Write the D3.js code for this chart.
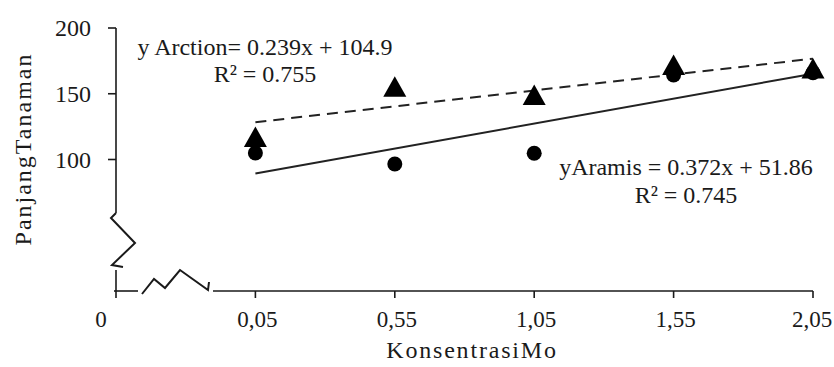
<!DOCTYPE html>
<html><head><meta charset="utf-8">
<script src="https://cdn.jsdelivr.net/npm/d3@7"></script>
<style>
html,body{margin:0;padding:0;background:#fff;}
svg{display:block;}
svg text{font-family:'Liberation Serif','DejaVu Serif',serif;}
</style></head>
<body>
<svg id="chart" width="834" height="367"></svg>
<script>
// ---- data ----
const categories = ["0", "0,05", "0,55", "1,05", "1,55", "2,05"];
const arction = [117.1, 155.4, 149.0, 171.9, 169.2];   // triangles, at categories 1..5
const aramis  = [104.9, 96.6, 104.7, 164.3, 166.0];    // circles
const yTicks = [100, 150, 200];
const eqArction = ["y Arction= 0.239x + 104.9", "R\u00B2 = 0.755"];
const eqAramis  = ["yAramis = 0.372x + 51.86", "R\u00B2 = 0.745"];
const xTitle = "KonsentrasiMo";
const yTitle = "PanjangTanaman";

const FONT = "Liberation Serif, DejaVu Serif, serif";
const svg = d3.select("#chart").attr("font-family", FONT);
const x = d3.scaleLinear().domain([0, categories.length - 1]).range([116, 813]);
const y = d3.scaleLinear().domain([0, 200]).range([291, 28]);
const ink = "#1a1a1a";

// ---- y axis (with break) ----
const y0 = y(0), xa = x(0);
svg.append("path")
  .attr("d", `M${xa},${y(200)}V${y0 - 78}`)
  .attr("stroke", ink).attr("stroke-width", 1.6).attr("fill", "none");
svg.append("path")
  .attr("d", `M${xa},${y0 - 78}L${xa - 5},${y0 - 73}L${xa + 19},${y0 - 48}L${xa - 4},${y0 - 26}L${xa + 7},${y0 - 24}`)
  .attr("stroke", ink).attr("stroke-width", 2).attr("fill", "none").attr("stroke-linejoin", "miter");
svg.append("path")
  .attr("d", `M${xa},${y0 - 21}V${y0 + 7}`)
  .attr("stroke", ink).attr("stroke-width", 1.6).attr("fill", "none");
const yg = svg.append("g");
yTicks.forEach(t => {
  yg.append("line").attr("x1", xa - 8).attr("x2", xa).attr("y1", y(t)).attr("y2", y(t))
    .attr("stroke", ink).attr("stroke-width", 1.6);
  yg.append("text").attr("x", 91).attr("y", y(t) + 8).attr("text-anchor", "end")
    .attr("font-family", FONT).attr("font-size", 24).attr("fill", ink).text(t);
});

// ---- x axis (with break) ----
svg.append("path")
  .attr("d", `M${xa - 2},${y0}H${xa + 22}`)
  .attr("stroke", ink).attr("stroke-width", 1.6).attr("fill", "none");
svg.append("path")
  .attr("d", `M${xa + 26},${y0 + 3}L${xa + 38},${y0 - 12}L${xa + 49},${y0 - 3}L${xa + 64},${y0 - 21}L${xa + 92},${y0 - 1}L${xa + 93},${y0 - 9}`)
  .attr("stroke", ink).attr("stroke-width", 2).attr("fill", "none");
svg.append("path")
  .attr("d", `M${xa + 97},${y0}H${x(categories.length - 1)}`)
  .attr("stroke", ink).attr("stroke-width", 1.6).attr("fill", "none");
const xg = svg.append("g");
categories.forEach((c, i) => {
  if (i > 0) xg.append("line").attr("x1", x(i)).attr("x2", x(i)).attr("y1", y0).attr("y2", y0 + 7)
    .attr("stroke", ink).attr("stroke-width", 1.6);
  const last = i === categories.length - 1;
  xg.append("text")
    .attr("x", i === 0 ? x(i) - 15 : (last ? Math.min(x(i), 812) : x(i) + 2))
    .attr("y", 327).attr("text-anchor", "middle")
    .attr("font-family", FONT).attr("font-size", 23).attr("fill", ink).text(c);
});

// ---- titles ----
svg.append("text").attr("x", 472).attr("y", 358).attr("text-anchor", "middle")
  .attr("font-family", FONT).attr("font-size", 24).attr("letter-spacing", 1.8).attr("fill", ink).text(xTitle);
svg.append("text").attr("transform", `translate(31,149) rotate(-90)`).attr("text-anchor", "middle")
  .attr("font-family", FONT).attr("font-size", 24).attr("letter-spacing", 2).attr("fill", ink).text(yTitle);

// ---- trendlines (least squares on the data) ----
function fit(vals) {
  const xs = vals.map((v, i) => i + 1);
  const mx = d3.mean(xs), my = d3.mean(vals);
  const b = d3.sum(xs, (xi, i) => (xi - mx) * (vals[i] - my)) / d3.sum(xs, xi => (xi - mx) ** 2);
  const a = my - b * mx;
  return [[1, a + b], [vals.length, a + b * vals.length]];
}
const line = d3.line().x(d => x(d[0])).y(d => y(d[1]));
svg.append("path").attr("d", line(fit(aramis)))
  .attr("stroke", "#222").attr("stroke-width", 2).attr("fill", "none");
svg.append("path").attr("d", line(fit(arction)))
  .attr("stroke", "#222").attr("stroke-width", 2).attr("stroke-dasharray", "11,7").attr("fill", "none");

// ---- markers ----
svg.append("g").selectAll("circle").data(aramis).join("circle")
  .attr("cx", (d, i) => x(i + 1)).attr("cy", d => y(d)).attr("r", 7.5).attr("fill", "#000");
const triPath = (cx, cy) => {
  const p = d3.path();
  p.moveTo(cx, cy - 10.5); p.lineTo(cx + 11.5, cy + 10); p.lineTo(cx - 11.5, cy + 10); p.closePath();
  return p.toString();
};
svg.append("g").selectAll("path").data(arction).join("path")
  .attr("d", (d, i) => triPath(x(i + 1), y(d))).attr("fill", "#000");

// ---- equations ----
eqArction.forEach((t, i) => svg.append("text").attr("x", 265).attr("y", 55 + i * 27)
  .attr("text-anchor", "middle").attr("font-family", FONT).attr("font-size", 24).attr("fill", ink).text(t));
eqAramis.forEach((t, i) => svg.append("text").attr("x", 686).attr("y", 175 + i * 28)
  .attr("text-anchor", "middle").attr("font-family", FONT).attr("font-size", 24).attr("fill", ink).text(t));
</script>
</body></html>
